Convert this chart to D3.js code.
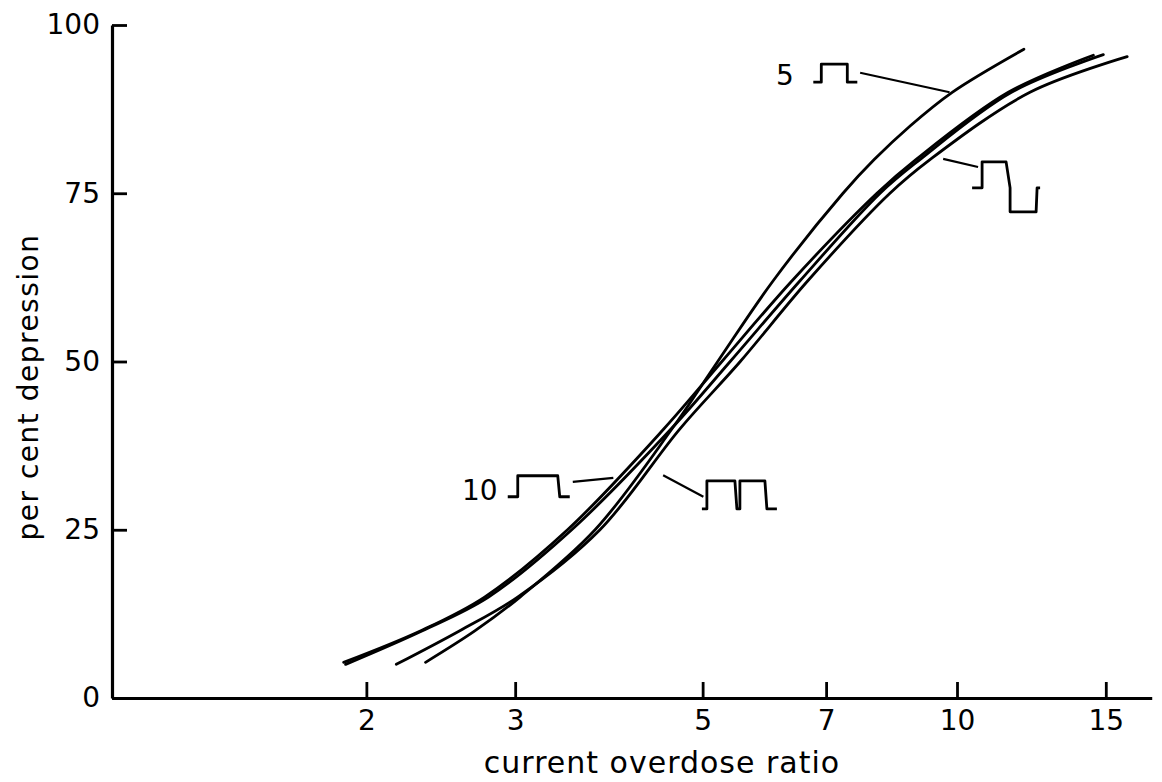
<!DOCTYPE html>
<html>
<head>
<meta charset="utf-8">
<script src="https://cdn.jsdelivr.net/npm/d3@7"></script>
<style>
  body { margin: 0; background: #fff; }
  text { font-family: "DejaVu Sans", sans-serif; fill: #000; }
</style>
</head>
<body>
<div id="chart"></div>
<script>
const width = 1162;
const height = 782;

// current overdose ratio (x) against per cent depression (y)
const single5Ratio = [2.35, 2.69, 3.04, 3.73, 4.60, 5.21, 6.06, 7.33, 7.98, 8.80, 9.87, 12.0];
const single5Dep   = [5.3, 10, 15, 25, 40, 50, 62, 75, 80, 85, 90, 96.4];

const single10Ratio = [1.88, 2.32, 2.76, 3.46, 4.50, 5.27, 6.38, 8.04, 8.94, 11.5, 14.5];
const single10Dep   = [5.3, 10, 15, 25, 40, 50, 62, 75, 80, 90, 95.5];

const pairRatio = [1.89, 2.33, 2.79, 3.50, 4.59, 5.39, 6.52, 8.11, 9.04, 11.6, 14.9];
const pairDep   = [5.0, 10, 15, 25, 40, 50, 62, 75, 80, 90, 95.6];

const biphasicRatio = [2.17, 2.58, 3.02, 3.78, 4.70, 5.54, 6.66, 8.33, 9.29, 12.2, 15.9];
const biphasicDep   = [5.0, 10, 15, 25, 40, 50, 62, 75, 80, 90, 95.3];

const xTicks = [2, 3, 5, 7, 10, 15];
const yTicks = [0, 25, 50, 75, 100];

// pulse labels: leader line ends and label anchors in data units, pulse glyph in px steps
const labels = [
  { text: "5",  textAt: [6.41, 91.1], pulseAt: [6.76, 91.5],
    pulse: [[0,0],[8,0],[8,-18],[34,-18],[34,0],[44,0]],
    leader: [[7.68, 92.9], [9.80, 90.0]] },
  { text: "10", textAt: [2.86, 29.4], pulseAt: [2.94, 29.9],
    pulse: [[0,0],[10,0],[10,-21],[50,-21],[52,0],[62,0]],
    leader: [[3.51, 32.1], [3.92, 32.7]] },
  { text: "",   textAt: null, pulseAt: [4.99, 28.1],
    pulse: [[0,0],[5,0],[5,-28],[33,-28],[35,0],[38,0],[38,-28],[63,-28],[65,0],[75,0]],
    leader: [[4.49, 33.1], [5.01, 29.9]] },
  { text: "",   textAt: null, pulseAt: [10.42, 75.8],
    pulse: [[0,0],[10,0],[10,-26],[34,-26],[38,0],[38,24],[64,24],[65,0],[68,0]],
    leader: [[9.63, 80.1], [10.59, 78.9]] }
];

const series = [
  d3.zip(single5Ratio, single5Dep),
  d3.zip(single10Ratio, single10Dep),
  d3.zip(pairRatio, pairDep),
  d3.zip(biphasicRatio, biphasicDep)
];

const margin = { top: 25, left: 112, bottom: 84 };

const xScale = d3.scaleLog().domain([1, 17]).range([margin.left, margin.left + 845 * Math.log10(17)]);
const yScale = d3.scaleLinear().domain([0, 100]).range([height - margin.bottom, margin.top]);

const svg = d3.select("#chart").append("svg").attr("width", width).attr("height", height);

// axes, ticks pointing inwards
const xAxis = svg.append("g")
  .attr("transform", `translate(0,${yScale(0)})`)
  .call(d3.axisBottom(xScale).tickValues(xTicks).tickFormat(d3.format("d"))
    .tickSizeInner(-16).tickSizeOuter(0).tickPadding(12));

const yAxis = svg.append("g")
  .attr("transform", `translate(${margin.left},0)`)
  .call(d3.axisLeft(yScale).tickValues(yTicks)
    .tickSizeInner(-15).tickSizeOuter(0).tickPadding(12));

[xAxis, yAxis].forEach(g => {
  g.select(".domain").attr("stroke", "#000").attr("stroke-width", 3.2);
  g.selectAll(".tick line").attr("stroke", "#000").attr("stroke-width", 2.8);
  g.selectAll(".tick text").attr("fill", "#000").style("font-size", "28px")
    .style("font-family", "'DejaVu Sans', sans-serif");
});

svg.append("text")
  .attr("x", 662)
  .attr("y", 773)
  .attr("text-anchor", "middle")
  .style("font-size", "30px")
  .style("letter-spacing", "1px")
  .text("current overdose ratio");

svg.append("text")
  .attr("transform", `translate(38,${(542 + 232) / 2}) rotate(-90)`)
  .attr("text-anchor", "middle")
  .style("font-size", "28px")
  .style("letter-spacing", "1.5px")
  .text("per cent depression");

// curves
const line = d3.line()
  .x(d => xScale(d[0]))
  .y(d => yScale(d[1]))
  .curve(d3.curveCatmullRom.alpha(0.5));

svg.selectAll("path.curve")
  .data(series)
  .join("path")
  .attr("class", "curve")
  .attr("fill", "none")
  .attr("stroke", "#000")
  .attr("stroke-width", 2.8)
  .attr("stroke-linecap", "round")
  .attr("d", line);

// labels with pulse glyphs and leader lines
const lab = svg.selectAll("g.label").data(labels).join("g").attr("class", "label");

lab.append("path")
  .attr("fill", "none")
  .attr("stroke", "#000")
  .attr("stroke-width", 2.2)
  .attr("d", d => d3.line().x(p => xScale(p[0])).y(p => yScale(p[1]))(d.leader));

lab.append("path")
  .attr("fill", "none")
  .attr("stroke", "#000")
  .attr("stroke-width", 2.8)
  .attr("stroke-linejoin", "round")
  .attr("transform", d => `translate(${xScale(d.pulseAt[0])},${yScale(d.pulseAt[1])})`)
  .attr("d", d => d3.line()(d.pulse));

lab.filter(d => d.textAt)
  .append("text")
  .attr("x", d => xScale(d.textAt[0]))
  .attr("y", d => yScale(d.textAt[1]))
  .attr("text-anchor", "end")
  .style("font-size", "28px")
  .text(d => d.text);
</script>
</body>
</html>
